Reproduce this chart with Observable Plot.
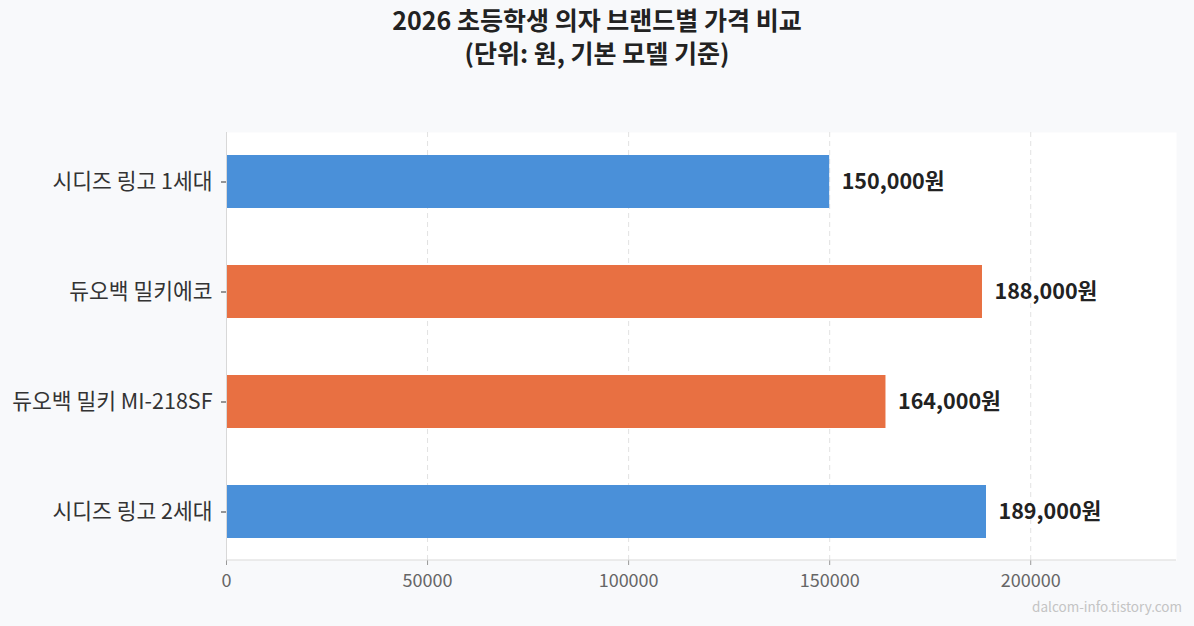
<!DOCTYPE html>
<html>
<head>
<meta charset="utf-8">
<script src="https://cdn.jsdelivr.net/npm/d3@7"></script>
<script src="https://cdn.jsdelivr.net/npm/@observablehq/plot@0.6"></script>
<style>
  html, body { margin: 0; padding: 0; background: #f8f9fb; }
  #wrap { position: relative; width: 1194px; height: 626px; font-family: "Noto Sans CJK KR", "Noto Sans", sans-serif; }
  #title { position: absolute; top: 3px; left: 0; width: 1194px; text-align: center; font-size: 25px; font-weight: bold; color: #222; line-height: 33px; }
  #caption { position: absolute; right: 12px; bottom: 10px; font-size: 13.5px; color: #c4c4c4; }
  #chart { position: absolute; top: 0; left: 0; }
</style>
</head>
<body>
<div id="wrap">
  <div id="chart"></div>
  <div id="title">2026 초등학생 의자 브랜드별 가격 비교<br>(단위: 원, 기본 모델 기준)</div>
  <div id="caption">dalcom-info.tistory.com</div>
</div>
<script>
const models = ["시디즈 링고 1세대", "듀오백 밀키에코", "듀오백 밀키 MI-218SF", "시디즈 링고 2세대"];
const prices = [150000, 188000, 164000, 189000];
const brands = ["시디즈", "듀오백", "듀오백", "시디즈"];
const brandColors = {"시디즈": "#4a90d9", "듀오백": "#e87042"};
const xTicks = [0, 50000, 100000, 150000, 200000];

const data = models.map((m, i) => ({model: m, price: prices[i], brand: brands[i]}));

const plot = Plot.plot({
  width: 1194,
  height: 626,
  marginLeft: 226,
  marginRight: 18,
  marginTop: 132,
  marginBottom: 66,
  style: {background: "transparent", fontFamily: "'Noto Sans CJK KR', 'Noto Sans', sans-serif"},
  x: {domain: [0, d3.max(prices) * 1.25], ticks: xTicks, tickFormat: d => String(d), label: null},
  y: {domain: models, paddingInner: 0.52, paddingOuter: 0.205, label: null},
  marks: [
    Plot.frame({fill: "white", stroke: "none"}),
    Plot.gridX(xTicks.slice(1), {stroke: "#e2e2e2", strokeOpacity: 1, strokeDasharray: "5,4"}),
    Plot.barX(data, {x: "price", y: "model", fill: d => brandColors[d.brand]}),
    Plot.text(data, {x: "price", y: "model", text: d => d3.format(",")(d.price) + "원", dx: 12, textAnchor: "start", fontSize: 21.5, fontWeight: "bold", fill: "#222"}),
    Plot.axisY({tickSize: 5, tickPadding: 9, fontSize: 21.5, color: "#333", stroke: "#333"}),
    Plot.axisX({ticks: xTicks, tickFormat: d => String(d), tickSize: 5, tickPadding: 9, fontSize: 18, fill: "#666", stroke: "#999"}),
    Plot.ruleX([0], {stroke: "#d8d8d8"})
  ]
});

const svg = d3.select(plot);
const sx = plot.scale("x");
svg.append("line")
  .attr("x1", sx.apply(0)).attr("x2", sx.apply(sx.domain[1]))
  .attr("y1", 626 - 66).attr("y2", 626 - 66)
  .attr("stroke", "#d8d8d8");

document.getElementById("chart").appendChild(plot);
</script>
</body>
</html>
